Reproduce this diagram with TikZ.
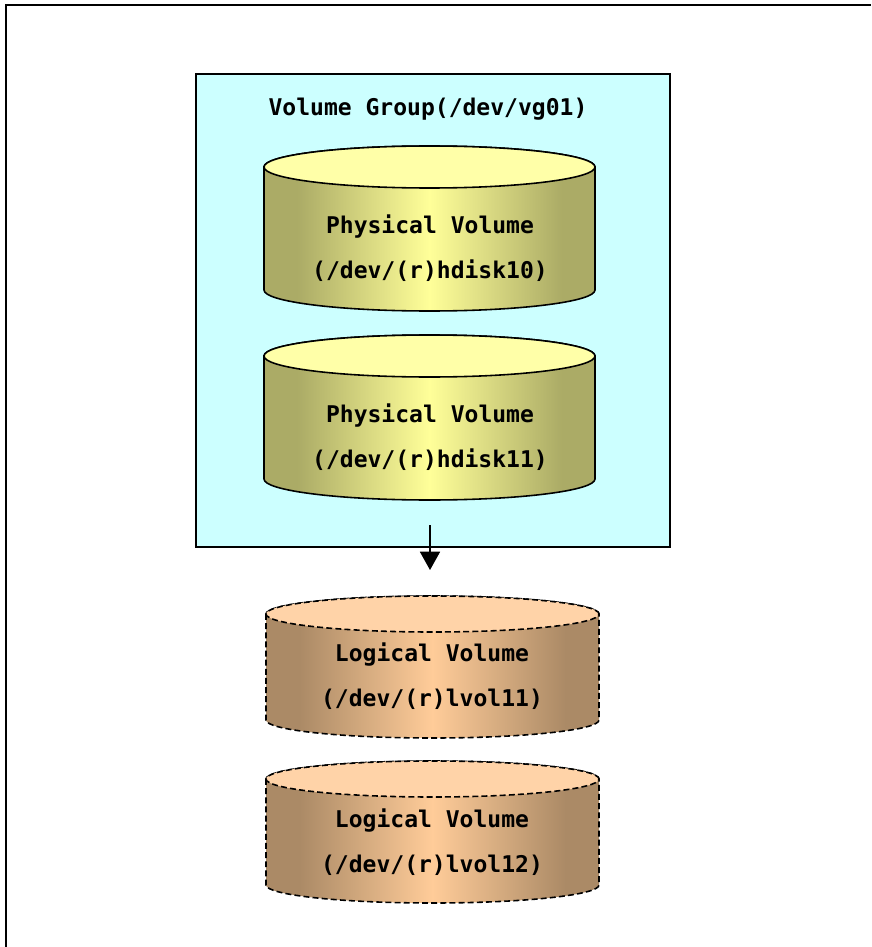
\documentclass[tikz,border=0pt]{standalone}
\usepackage{fontspec}
\setmonofont{DejaVu Sans Mono}
\usepackage{tikz}
\usetikzlibrary{arrows.meta}

\definecolor{groupfill}{HTML}{CCFFFF}
\definecolor{physdark}{HTML}{ABAB66}
\definecolor{physlight}{HTML}{FFFF99}
\definecolor{phystop}{HTML}{FFFFA8}
\definecolor{logdark}{HTML}{AB8A66}
\definecolor{loglight}{HTML}{FFCC99}
\definecolor{logtop}{HTML}{FFD3A8}
\pgfdeclarehorizontalshading{physshade}{100bp}{color(0bp)=(physdark); color(30bp)=(physdark); color(50bp)=(physlight); color(70bp)=(physdark); color(100bp)=(physdark)}
\pgfdeclarehorizontalshading{logshade}{100bp}{color(0bp)=(logdark); color(30bp)=(logdark); color(50bp)=(loglight); color(70bp)=(logdark); color(100bp)=(logdark)}
\tikzset{
  label text/.style={align=center, font=\ttfamily\bfseries\fontsize{6.55pt}{12.8pt}\selectfont},
  physical/.style={draw=black, line width=0.45pt, shading=physshade},
  physical top/.style={draw=black, line width=0.45pt, fill=phystop},
  logical/.style={draw=black, line width=0.45pt, dash pattern=on 1.7pt off 0.9pt, shading=logshade},
  logical top/.style={draw=black, line width=0.45pt, dash pattern=on 1.7pt off 0.9pt, fill=logtop}
}

\begin{document}
\begin{tikzpicture}
    \useasboundingbox (0,0) rectangle (8.71,-9.47);
    \draw[line width=0.7pt] (0.06,-9.47) -- (0.06,-0.05) -- (8.71,-0.05);
    \draw[fill=groupfill, line width=0.4pt] (1.96,-0.74) rectangle (6.70,-5.47);
    \node[label text] at (4.28,-1.09) (Group) {Volume Group(/dev/vg01)};
    \foreach \y in {0,-1.89} {
        \begin{scope}[yshift=\y cm]
            \path[physical] (2.64,-1.67) -- (2.64,-2.90) arc (180:360:1.655 and 0.21) -- (5.95,-1.67) arc (0:180:1.655 and 0.21) -- cycle;
            \path[physical top] (4.295,-1.67) ellipse (1.655 and 0.21);
        \end{scope}
    }
    \foreach \y in {0,-1.65} {
        \begin{scope}[yshift=\y cm]
            \path[logical] (2.66,-6.14) -- (2.66,-7.20) arc (180:360:1.665 and 0.18) -- (5.99,-6.14) arc (0:180:1.665 and 0.18) -- cycle;
            \path[logical top] (4.325,-6.14) ellipse (1.665 and 0.18);
        \end{scope}
    }
    \node[label text] at (4.30,-2.48) (P0) {Physical Volume \\ (/dev/(r)hdisk10)};
    \node[label text] at (4.30,-4.37) (P1) {Physical Volume \\ (/dev/(r)hdisk11)};
    \node[label text] at (4.32,-6.76) (L0) {Logical Volume \\ (/dev/(r)lvol11)};
    \node[label text] at (4.32,-8.42) (L1) {Logical Volume \\ (/dev/(r)lvol12)};
    \coordinate (A0) at (4.30,-5.25);
    \coordinate (A1) at (4.30,-5.70);
    \draw[-{Triangle[length=5.2pt,width=5.7pt]}, line width=0.4pt] (A0) -- (A1);
\end{tikzpicture}
\end{document}
